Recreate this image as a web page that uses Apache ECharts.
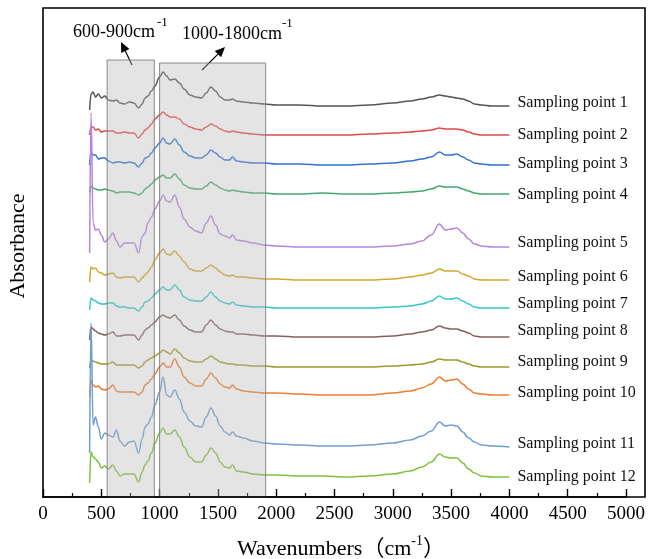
<!DOCTYPE html>
<html>
<head>
<meta charset="utf-8">
<script src="https://cdn.jsdelivr.net/npm/echarts@6/dist/echarts.min.js"></script>
<style>
  html, body { margin: 0; padding: 0; background: #fff; }
  #chart { width: 649px; height: 559px; }
</style>
</head>
<body>
<div id="chart"></div>
<script>
// FTIR spectra of twelve sampling points, stacked with vertical offsets.
const wavenumbers = [400, 412, 430, 450, 475, 500, 530, 560, 600, 630,
  660, 700, 740, 780, 820, 850, 875, 900, 930, 960,
  1000, 1030, 1060, 1090, 1130, 1170, 1210, 1260, 1310, 1360,
  1400, 1440, 1480, 1520, 1560, 1600, 1625, 1660, 1720, 1800,
  1900, 2000, 2200, 2400, 2600, 2800, 3000, 3150, 3250, 3330,
  3400, 3450, 3500, 3550, 3600, 3650, 3700, 3760, 3850, 4000];

// Absorbance above each spectrum's own baseline (arbitrary units)
const point1 = [-4, 12, 14, 9, 12, 8, 10, 6, 5, 6,
  3, 2, 4, 3, -2, 2, 8, 10, 15, 20,
  29, 34, 30, 26, 27, 23, 17, 11, 9, 8,
  13, 19, 15, 9, 6, 6, 7, 5, 4, 3,
  2, 1, 1, 0, 0, 1, 3, 5, 7, 9,
  11, 10, 9, 8, 7, 5, 2, 1, 0, 0];
const point2 = [0, 8, 8, 5, 6, 3, 4, 4, 4, 2,
  2, 3, 2, 2, -3, 1, 5, 7, 11, 16,
  20, 23, 20, 18, 18, 16, 11, 8, 6, 5,
  8, 11, 9, 6, 4, 3, 4, 3, 2, 1,
  0, 0, 0, 0, 0, 1, 2, 3, 4, 5,
  7, 6, 6, 6, 5, 3, 1, 0, 0, 0];
const point3 = [0, 13, 10, 10, 6, 7, 7, 4, 2, 3,
  3, 2, 3, 2, -2, 2, 7, 8, 12, 17,
  22, 27, 22, 21, 26, 20, 13, 9, 7, 7,
  10, 15, 12, 8, 5, 5, 8, 4, 3, 2,
  2, 1, 1, 0, 0, 1, 2, 4, 6, 8,
  13, 10, 10, 11, 8, 5, 2, 1, 0, 0];
const point4 = [2, 8, 6, 5, 4, 4, 5, 4, 3, 1,
  2, 2, 2, 1, -1, 1, 5, 7, 10, 14,
  17, 19, 16, 16, 20, 15, 9, 6, 5, 5,
  8, 12, 9, 6, 4, 3, 4, 3, 2, 1,
  1, 0, 0, 1, 0, 0, 1, 2, 3, 5,
  8, 7, 7, 7, 5, 3, 1, 0, 0, 0];
const point5 = [-6, 134, 24, 17, 18, 12, 5, 8, 14, 6,
  0, 4, 4, 4, -6, 10, 14, 24, 30, 38,
  46, 52, 46, 45, 52, 40, 28, 20, 16, 14,
  24, 31, 22, 13, 11, 9, 12, 7, 6, 4,
  2, 1, 0, 0, 0, 0, 1, 3, 6, 12,
  23, 17, 18, 19, 14, 8, 3, 1, 0, 0];
const point6 = [-2, 13, 11, 12, 8, 7, 5, 6, 7, 3,
  2, 3, 3, 3, -2, 2, 5, 8, 13, 20,
  27, 31, 26, 25, 29, 24, 18, 11, 9, 9,
  12, 15, 12, 8, 5, 4, 5, 3, 3, 2,
  1, 1, 0, 0, 0, 0, 1, 3, 5, 7,
  11, 9, 9, 9, 6, 4, 1, 0, 0, 0];
const point7 = [-2, 10, 8, 7, 5, 4, 4, 5, 5, 2,
  1, 1, 0, 0, -3, 1, 6, 7, 10, 14,
  18, 21, 18, 18, 23, 18, 11, 8, 7, 7,
  11, 16, 11, 7, 5, 4, 6, 3, 2, 1,
  1, 0, 0, 0, 0, 0, 1, 2, 4, 7,
  12, 9, 9, 10, 7, 4, 1, 0, 0, 0];
const point8 = [-3, 10, 8, 6, 4, 3, 2, 3, 5, 1,
  1, 2, 2, 2, -3, 2, 7, 9, 12, 15,
  20, 22, 20, 19, 22, 17, 11, 7, 5, 5,
  12, 17, 12, 8, 6, 5, 5, 3, 3, 2,
  1, 1, 0, 0, 0, 0, 1, 3, 5, 7,
  11, 9, 8, 8, 6, 4, 1, 0, 0, 0];
const point9 = [-1, 7, 6, 5, 4, 3, 3, 3, 5, 2,
  2, 2, 2, 2, -1, 1, 5, 7, 9, 11,
  14, 17, 15, 13, 18, 14, 9, 6, 5, 5,
  8, 11, 8, 5, 4, 3, 3, 2, 2, 1,
  1, 0, 0, 0, 0, 0, 1, 2, 3, 5,
  8, 7, 7, 7, 5, 3, 1, 0, 0, 0];
const point10 = [-2, 15, 10, 8, 9, 6, 5, 6, 10, 4,
  3, 3, 3, 3, 0, 3, 10, 12, 16, 21,
  28, 32, 28, 28, 36, 28, 18, 12, 9, 9,
  16, 22, 17, 11, 8, 7, 10, 6, 4, 3,
  2, 2, 1, 0, 0, 0, 2, 4, 7, 11,
  18, 14, 15, 16, 11, 6, 2, 1, 0, 0];
const point11 = [-6, 124, 22, 30, 20, 8, 14, 12, 10, 17,
  6, 1, 5, 6, -6, 8, 20, 23, 30, 42,
  55, 70, 52, 50, 57, 48, 35, 26, 21, 20,
  30, 39, 31, 21, 15, 12, 15, 11, 9, 6,
  4, 3, 2, 1, 1, 2, 4, 7, 11, 16,
  25, 21, 22, 21, 15, 9, 5, 2, 1, 0];
const point12 = [-6, 25, 20, 18, 15, 9, 11, 8, 12, 6,
  1, 3, 3, 3, -5, 5, 12, 16, 24, 34,
  44, 49, 43, 43, 47, 40, 30, 20, 15, 15,
  22, 29, 24, 15, 10, 9, 12, 6, 5, 3,
  2, 2, 1, 1, 0, 1, 3, 6, 10, 15,
  23, 20, 19, 19, 14, 8, 4, 1, 0, 0];

const spectra = [point1, point2, point3, point4, point5, point6,
  point7, point8, point9, point10, point11, point12];
const sampleNames = ['Sampling point 1', 'Sampling point 2', 'Sampling point 3',
  'Sampling point 4', 'Sampling point 5', 'Sampling point 6', 'Sampling point 7',
  'Sampling point 8', 'Sampling point 9', 'Sampling point 10',
  'Sampling point 11', 'Sampling point 12'];
// stacking offset for each spectrum
const offsets = [391, 362, 332, 303, 250, 217, 189, 160, 130, 102, 50, 20];

// highlighted bands: [from, to, top]
const bandFrom = [550, 1000];
const bandTo = [955, 1910];
const bandTop = [437, 434];

// ---- styling ----
const colors = ['#555555', '#e5484b', '#2f72d4', '#43a86c', '#b585e0', '#d4a62e',
  '#35c6c9', '#84605e', '#9c9b27', '#f27b2e', '#6f9fd4', '#7ec23b'];
const labelShift = [-3, 0, -1, 1, -4, -3, -4, -6, -5, -2, -3, 0];
const serif = "'Liberation Serif','Times New Roman','Noto Sans CJK SC',serif";

const chart = echarts.init(document.getElementById('chart'), null, { renderer: 'canvas' });

const lineSeries = spectra.map((vals, k) => ({
  type: 'line',
  name: sampleNames[k],
  data: wavenumbers.map((w, i) => [w, offsets[k] + vals[i]]),
  symbol: 'none',
  smooth: 0.4,
  smoothMonotone: 'x',
  lineStyle: { color: colors[k], width: 1.5 },
  itemStyle: { color: colors[k] },
  z: 2,
  endLabel: {
    show: true,
    formatter: '{a}',
    distance: 8,
    offset: [0, labelShift[k]],
    color: '#111',
    fontFamily: serif,
    fontSize: 16
  }
}));

const bandSeries = {
  type: 'custom',
  silent: true,
  z: 10,
  data: bandFrom.map((f, i) => [f, bandTo[i], bandTop[i]]),
  encode: { x: [0, 1], y: 2 },
  renderItem(params, api) {
    const p0 = api.coord([api.value(0), api.value(2)]);
    const p1 = api.coord([api.value(1), 0]);
    return {
      type: 'rect',
      shape: { x: p0[0], y: p0[1], width: p1[0] - p0[0], height: p1[1] - p0[1] },
      style: { fill: 'rgba(185,185,185,0.38)', stroke: 'rgba(120,120,120,0.85)', lineWidth: 1 }
    };
  }
};

function arrow(x1, y1, x2, y2) {
  const ang = Math.atan2(y2 - y1, x2 - x1);
  const L = 10, W = 4.5;
  const bx = x2 - L * Math.cos(ang), by = y2 - L * Math.sin(ang);
  const nx = -Math.sin(ang), ny = Math.cos(ang);
  return [
    { type: 'line', shape: { x1, y1, x2: bx, y2: by }, style: { stroke: '#000', lineWidth: 1.2 } },
    { type: 'polygon', shape: { points: [[x2, y2], [bx + nx * W, by + ny * W], [bx - nx * W, by - ny * W]] },
      style: { fill: '#000' } }
  ];
}

chart.setOption({
  animation: false,
  backgroundColor: '#fff',
  grid: { left: 43, right: 23, top: 8, bottom: 62, containLabel: false },
  xAxis: {
    type: 'value',
    min: 0, max: 5000, interval: 500,
    axisLine: { show: true, lineStyle: { color: '#000', width: 1.6 } },
    axisTick: { show: true, inside: true, length: 8, lineStyle: { color: '#000', width: 1.4 } },
    minorTick: { show: true, splitNumber: 2, length: 4, lineStyle: { color: '#000', width: 1.2 } },
    splitLine: { show: false },
    axisLabel: { color: '#000', fontFamily: serif, fontSize: 19, margin: 8, formatter: v => String(v) }
  },
  yAxis: {
    type: 'value', min: 0, max: 489,
    show: false
  },
  series: [...lineSeries, bandSeries],
  graphic: [
    { type: 'rect', shape: { x: 43, y: 8, width: 602, height: 489 },
      style: { fill: 'none', stroke: '#000', lineWidth: 1.6 }, z: 20, silent: true },
    { type: 'text', x: 18, y: 246, rotation: Math.PI / 2,
      style: { text: 'Absorbance', font: "22px " + serif, fill: '#000', align: 'center', verticalAlign: 'middle' } },
    { type: 'text', x: 341, y: 547,
      style: {
        text: '{a|Wavenumbers（cm}{s|-1}{a|）}',
        align: 'center', verticalAlign: 'middle', fill: '#000',
        rich: {
          a: { fontFamily: serif, fontSize: 22, lineHeight: 26, verticalAlign: 'bottom', fill: '#000' },
          s: { fontFamily: serif, fontSize: 14, lineHeight: 14, verticalAlign: 'top', fill: '#000' }
        }
      } },
    { type: 'text', x: 73, y: 23, style: { text: '600-900cm', font: "18px " + serif, fill: '#000', align: 'left', verticalAlign: 'top' } },
    { type: 'text', x: 157, y: 23, style: { text: '-1', font: "13px " + serif, fill: '#000', align: 'left', verticalAlign: 'middle' } },
    { type: 'text', x: 182, y: 25, style: { text: '1000-1800cm', font: "18px " + serif, fill: '#000', align: 'left', verticalAlign: 'top' } },
    { type: 'text', x: 282, y: 24, style: { text: '-1', font: "13px " + serif, fill: '#000', align: 'left', verticalAlign: 'middle' } },
    ...arrow(132, 65, 121, 42),
    ...arrow(202, 70, 225, 47)
  ]
});
</script>
</body>
</html>
